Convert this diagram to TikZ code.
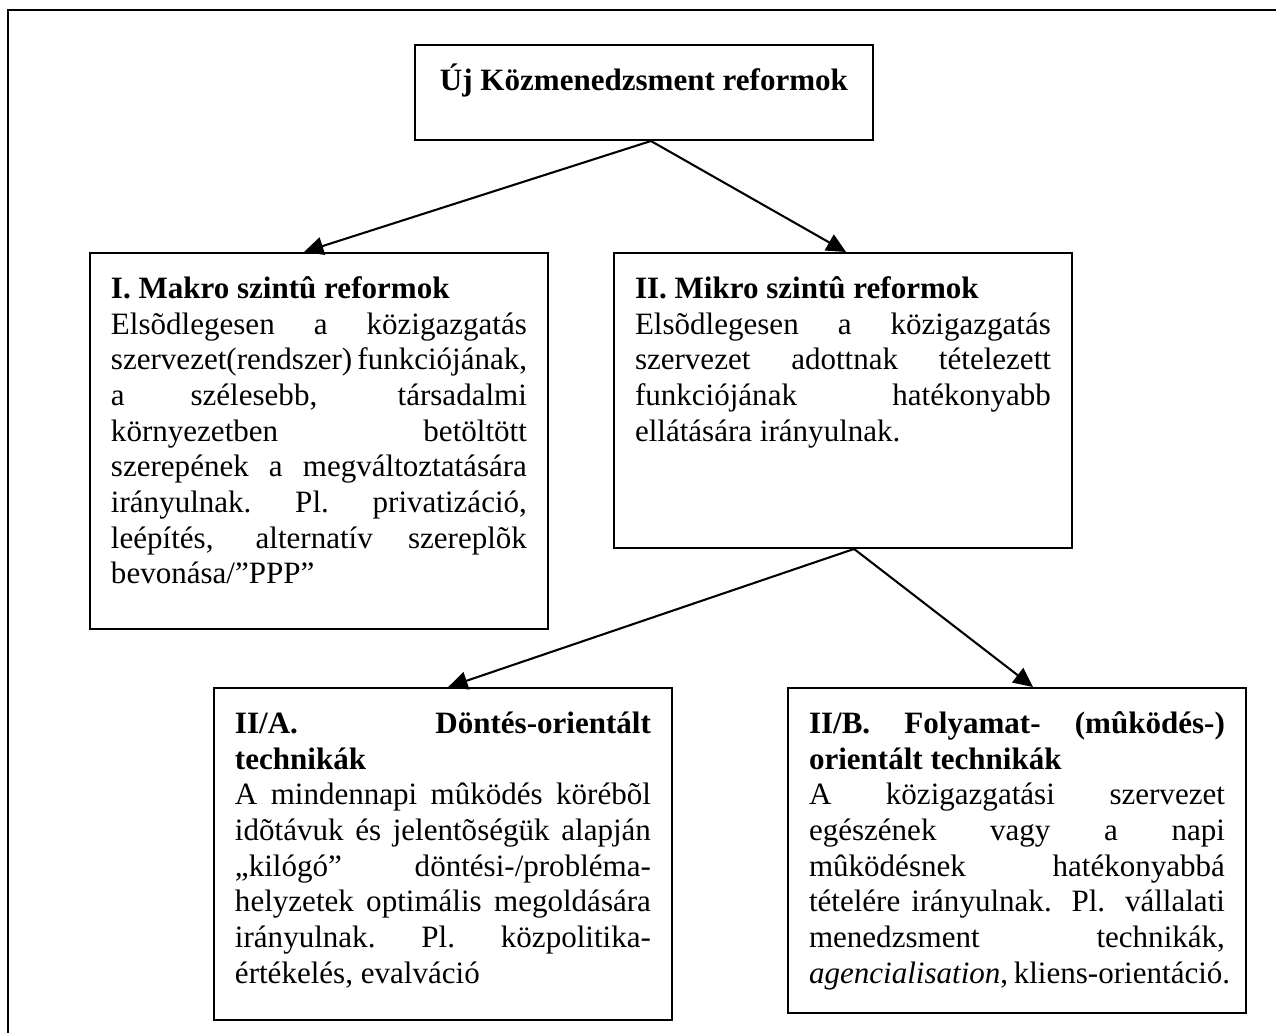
\documentclass[tikz,border=0pt]{standalone}
\usepackage{fontspec}
\setmainfont{Liberation Serif}
\usetikzlibrary{arrows.meta}

% text block of a box: height, then the lines
\newcommand{\tartalom}[2]{\parbox[t][#1][t]{160.8pt}{\fontsize{12}{13.8}\selectfont\rule{0pt}{12.5pt}#2}}
% one justified line
\newcommand{\sor}[1]{\makebox[\linewidth][s]{#1}\\}

\tikzset{
    doboz/.style={draw, line width=0.8pt, inner xsep=8.1pt, inner ysep=5pt, anchor=north west},
    nyil/.style={-{Triangle[length=7.5pt,width=7pt]}, line width=0.8pt},
}

\begin{document}
\begin{tikzpicture}[x=0.3866pt, y=-0.3866pt]
    \useasboundingbox (0,0) rectangle (1276,1032);
    % frame round the whole figure
    \draw[line width=1pt] (8,10) rectangle (1300,1060);

    % top box
    \node[doboz] (ujkm) at (414,44) {\tartalom{26.7pt}{\centering\textbf{Új Közmenedzsment reformok}}};

    % second row
    \node[doboz] (makro) at (89,252) {\tartalom{135.4pt}{%
        \textbf{I. Makro szintû reformok}\\
        \sor{Elsõdlegesen a közigazgatás}
        \sor{szervezet(rendszer) funkciójának,}
        \sor{a szélesebb, társadalmi}
        \sor{környezetben betöltött}
        \sor{szerepének a megváltoztatására}
        \sor{irányulnak. Pl. privatizáció,}
        \sor{leépítés, alternatív szereplõk}
        bevonása/”PPP”}};
    \node[doboz] (mikro) at (613,252) {\tartalom{104pt}{%
        \textbf{II. Mikro szintû reformok}\\
        \sor{Elsõdlegesen a közigazgatás}
        \sor{szervezet adottnak tételezett}
        \sor{funkciójának hatékonyabb}
        ellátására irányulnak.}};

    % third row
    \node[doboz] (dontes) at (213,687) {\tartalom{118.4pt}{%
        \sor{\bfseries II/A. Döntés-orientált}
        \textbf{technikák}\\
        \sor{A mindennapi mûködés körébõl}
        \sor{idõtávuk és jelentõségük alapján}
        \sor{„kilógó” döntési-/probléma-}
        \sor{helyzetek optimális megoldására}
        \sor{irányulnak. Pl. közpolitika-}
        értékelés, evalváció}};
    \node[doboz] (folyamat) at (787,687) {\tartalom{115.6pt}{%
        \sor{\bfseries II/B. Folyamat- (mûködés-)}
        \textbf{orientált technikák}\\
        \sor{A közigazgatási szervezet}
        \sor{egészének vagy a napi}
        \sor{mûködésnek hatékonyabbá}
        \sor{tételére irányulnak. Pl. vállalati}
        \sor{menedzsment technikák,}
        \makebox[\linewidth][s]{\textit{agencialisation}, kliens-orientáció.}}};

    % arrows
    \draw[nyil] ([xshift=2.7pt]ujkm.south) -- ([xshift=-5.8pt]makro.north);
    \draw[nyil] ([xshift=2.7pt]ujkm.south) -- ([xshift=1.2pt]mikro.north);
    \draw[nyil] ([xshift=4.3pt]mikro.south) -- ([xshift=2pt]dontes.north);
    \draw[nyil] ([xshift=4.3pt]mikro.south) -- ([xshift=6.2pt]folyamat.north);
\end{tikzpicture}
\end{document}
